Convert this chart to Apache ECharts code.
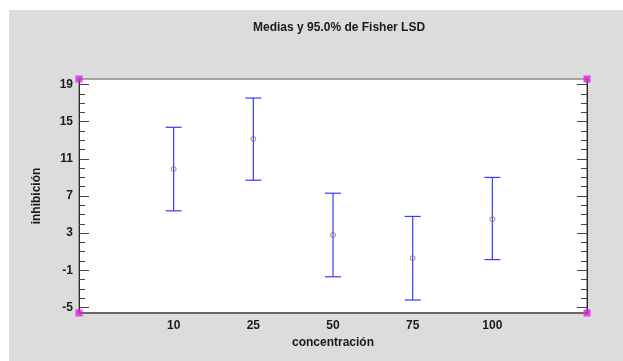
<!DOCTYPE html>
<html>
<head>
<meta charset="utf-8">
<script src="https://cdn.jsdelivr.net/npm/echarts@6/dist/echarts.min.js"></script>
<style>
html,body{margin:0;padding:0;background:#fff;}
#c{width:623px;height:361px;}
</style>
</head>
<body>
<div id="c"></div>
<script>
// Data
const categories = ['10', '25', '50', '75', '100'];
const means = [9.9, 13.15, 2.8, 0.3, 4.5];
const lower = [5.4, 8.7, -1.7, -4.2, 0.15];
const upper = [14.4, 17.55, 7.3, 4.8, 9.0];
const yTickLabels = [-5, -1, 3, 7, 11, 15, 19];
const yMinorTicks = [];
for (let v = -5; v <= 19; v++) yMinorTicks.push(v);

const Y_MIN = -5.6, Y_MAX = 19.6;
const X_MIN = -1.1875, X_MAX = 5.1875;
const FONT = "'Liberation Sans', Arial, sans-serif";

const chart = echarts.init(document.getElementById('c'), null, {renderer: 'canvas'});

const idx = categories.map((c, i) => i);
const barData = idx.map(i => [i, lower[i], upper[i]]);
const meanData = idx.map(i => [i, means[i]]);
const cornerData = [[X_MIN, Y_MAX], [X_MAX, Y_MAX], [X_MIN, Y_MIN], [X_MAX, Y_MIN]];

const labelStyle = {fontFamily: FONT, fontWeight: 'bold', fontSize: 12, color: '#1a1a1a'};

function yAx(position, major) {
  return {
    type: 'value', position: position, min: Y_MIN, max: Y_MAX,
    axisLine: {show: major, onZero: false, lineStyle: {color: '#2a2a2a', width: 1}},
    axisTick: {show: true, inside: true, length: major ? 10 : 6,
      customValues: major ? yTickLabels : yMinorTicks,
      lineStyle: {color: '#444', width: 1}},
    axisLabel: (major && position === 'left') ? Object.assign({show: true, customValues: yTickLabels, margin: 6}, labelStyle) : {show: false},
    splitLine: {show: false}
  };
}

const yl = yAx('left', true);
yl.name = 'inhibición';
yl.nameLocation = 'middle';
yl.nameGap = 36;
yl.nameTextStyle = {fontFamily: FONT, fontWeight: 'bold', fontSize: 12, color: '#1a1a1a'};

chart.setOption({
  backgroundColor: '#ffffff',
  animation: false,
  graphic: [{
    type: 'rect', left: 9, top: 10, z: -10,
    shape: {width: 614, height: 351},
    style: {fill: '#dcdcdc'}
  }],
  title: {
    text: 'Medias y 95.0% de Fisher LSD',
    left: 248, top: 17,
    textStyle: {fontFamily: FONT, fontWeight: 'bold', fontSize: 12, color: '#1a1a1a'}
  },
  grid: {
    left: 79, top: 79, width: 508, height: 234,
    show: true, backgroundColor: '#ffffff', borderColor: '#8a8a8a', borderWidth: 1.5
  },
  xAxis: {
    type: 'value', min: X_MIN, max: X_MAX,
    axisLine: {show: true, onZero: false, lineStyle: {color: '#555', width: 1.5}},
    axisTick: {show: false},
    splitLine: {show: false},
    axisLabel: Object.assign({
      customValues: idx, margin: 7,
      formatter: v => categories[Math.round(v)]
    }, labelStyle),
    name: 'concentración', nameLocation: 'middle', nameGap: 21,
    nameTextStyle: {fontFamily: FONT, fontWeight: 'bold', fontSize: 12, color: '#1a1a1a'}
  },
  yAxis: [yl, yAx('left', false), yAx('right', true), yAx('right', false)],
  series: [
    {
      type: 'custom', xAxisIndex: 0, yAxisIndex: 0, data: barData, z: 3,
      renderItem: function (params, api) {
        const x = api.value(0);
        const top = api.coord([x, api.value(2)]);
        const bot = api.coord([x, api.value(1)]);
        const hw = 8;
        const st = {stroke: '#3838ff', lineWidth: 1.2};
        return {
          type: 'group',
          children: [
            {type: 'line', shape: {x1: top[0], y1: top[1], x2: bot[0], y2: bot[1]}, style: st},
            {type: 'line', shape: {x1: top[0] - hw, y1: top[1], x2: top[0] + hw, y2: top[1]}, style: st},
            {type: 'line', shape: {x1: bot[0] - hw, y1: bot[1], x2: bot[0] + hw, y2: bot[1]}, style: st}
          ]
        };
      }
    },
    {
      type: 'scatter', xAxisIndex: 0, yAxisIndex: 0, data: meanData, z: 4,
      symbol: 'circle', symbolSize: 5,
      itemStyle: {color: 'rgba(0,0,0,0)', borderColor: '#7a7a55', borderWidth: 1}
    },
    {
      type: 'scatter', xAxisIndex: 0, yAxisIndex: 0, data: cornerData, z: 10,
      symbol: 'rect', symbolSize: 7, clip: false, silent: true,
      itemStyle: {color: '#e020e0'}
    }
  ]
});
</script>
</body>
</html>
